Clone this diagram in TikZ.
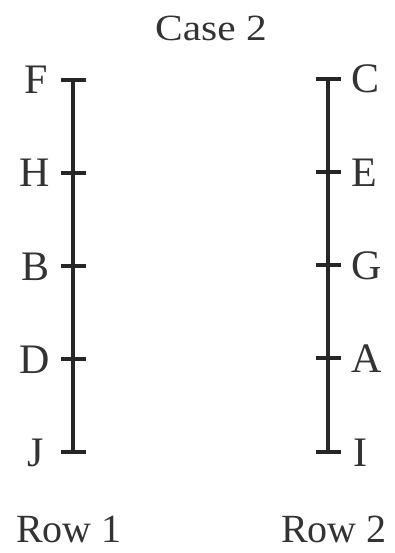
\documentclass[tikz,border=0pt]{standalone}
\usepackage{fontspec}
\setmainfont{Liberation Serif}
\begin{document}
\begin{tikzpicture}[x={(1pt,0)},y={(0,-1pt)},
  lbl/.style={font=\fontsize{42}{44}\selectfont, inner sep=0pt, text=black!80},
  lft/.style={lbl, anchor=base east},
  rgt/.style={lbl, anchor=base west},
  rowlbl/.style={lbl, font=\fontsize{40}{42}\selectfont, anchor=base, text depth=0pt},
  bar/.style={line width=3.6pt, black!85},
  tick/.style={line width=3.2pt, black!85}]
\useasboundingbox (0,0) rectangle (394,553);
% title and row labels
\node[font=\fontsize{37}{40}\selectfont, xscale=1.12, inner sep=0pt, text=black!80] (title) at (211,28) {Case 2};
\node[rowlbl] (row1) at (69,542) {Row 1};
\node[rowlbl] (row2) at (334,542) {Row 2};
% tick coordinates
\foreach \n/\y in {l1/80,l2/173,l3/266,l4/359,l5/452} {\coordinate (\n) at (73,\y);}
\foreach \n/\y in {r1/79,r2/172,r3/265,r4/358,r5/452} {\coordinate (\n) at (328,\y);}
% bars
\draw[bar] (l1) -- (l5);
\draw[bar] (r1) -- (r5);
\foreach \n in {l1,l2,l3,l4,l5,r1,r2,r3,r4,r5} {\draw[tick] ([xshift=-12.5pt]\n) -- ([xshift=13pt]\n);}
% letters
\node[lft] (F) at ([xshift=-25pt,yshift=-14pt]l1) {F};
\node[lft] (H) at ([xshift=-23pt,yshift=-14pt]l2) {H};
\node[lft] (B) at ([xshift=-23pt,yshift=-14pt]l3) {B};
\node[lft] (D) at ([xshift=-23pt,yshift=-14pt]l4) {D};
\node[lft] (J) at ([xshift=-29pt,yshift=-14pt]l5) {J};
\node[rgt] (C) at ([xshift=23pt,yshift=-14pt]r1) {C};
\node[rgt] (E) at ([xshift=23pt,yshift=-14pt]r2) {E};
\node[rgt] (G) at ([xshift=23pt,yshift=-14pt]r3) {G};
\node[rgt] (A) at ([xshift=23pt,yshift=-14pt]r4) {A};
\node[rgt] (I) at ([xshift=25pt,yshift=-14pt]r5) {I};
\end{tikzpicture}
\end{document}
